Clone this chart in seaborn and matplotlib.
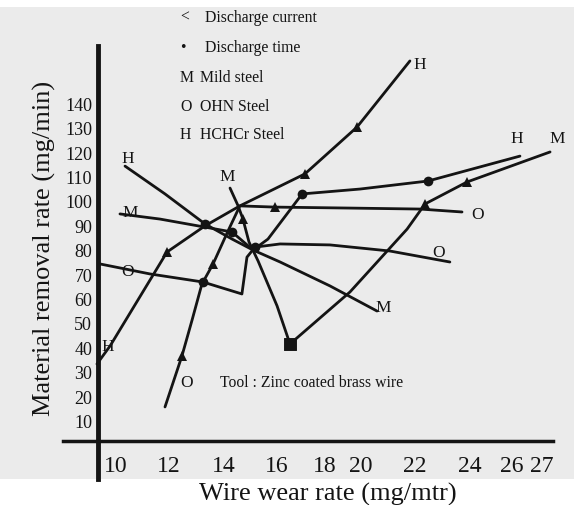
import matplotlib
matplotlib.use("Agg")
import matplotlib.pyplot as plt
from matplotlib.transforms import ScaledTranslation
import seaborn as sns

sns.set_theme(style="white")
plt.rcParams['font.family'] = ['Liberation Serif', 'DejaVu Serif']

# ---------------- data ----------------
x_ticks = [10, 12, 14, 16, 18, 20, 22, 24, 26, 27]
y_ticks = [10, 20, 30, 40, 50, 60, 70, 80, 90, 100, 110, 120, 130, 140]

# HCHCr steel - discharge current
h_cur_x = [8.97, 9.49, 11.74, 13.24, 14.62, 17.19, 19.25, 21.34]
h_cur_y = [33.2, 40.6, 79.1, 89.8, 98.0, 111.1, 130.3, 157.4]
# OHN steel - discharge current
o_cur_x = [11.66, 12.33, 12.73, 13.12, 13.56, 14.15, 14.62, 16.01, 18.97, 21.74, 23.40]
o_cur_y = [15.6, 36.5, 51.2, 66.0, 74.2, 87.7, 98.0, 97.5, 97.1, 96.7, 95.5]
# Mild steel - discharge current
m_cur_x = [14.23, 14.55, 14.74, 14.98, 15.34, 16.09, 16.60, 18.97, 21.23, 21.94, 23.60, 26.88]
m_cur_y = [105.3, 98.0, 92.6, 83.2, 75.4, 57.0, 41.4, 62.7, 88.5, 98.8, 107.8, 120.1]
# HCHCr steel - discharge time
h_time_x = [10.08, 11.66, 13.24, 14.31, 15.14, 15.73, 17.08, 19.37, 22.06, 25.69]
h_time_y = [114.3, 102.9, 90.6, 84.4, 79.9, 84.4, 102.9, 104.9, 108.2, 118.4]
# Mild steel - discharge time
m_time_x = [9.88, 11.46, 13.24, 14.31, 15.14, 16.21, 18.18, 20.04]
m_time_y = [94.7, 92.6, 89.3, 87.3, 79.9, 75.0, 65.2, 54.9]
# OHN steel - discharge time
o_time_x = [9.09, 11.07, 13.16, 14.70, 14.90, 15.22, 16.21, 18.18, 20.55, 22.92]
o_time_y = [74.2, 70.1, 66.8, 61.9, 77.0, 81.1, 82.4, 82.0, 79.5, 75.0]

INK = '#141414'

fig = plt.figure(figsize=(5.74, 5.06), dpi=100, facecolor='white')
ax = fig.add_axes([0, 26 / 506, 1, 472 / 506])
ax.set_facecolor('#ebebeb')
ax.set_xlim(10 - 123 / 25.3, 10 + 451 / 25.3)
ax.set_ylim((446 - 480) / 2.44, (446 - 8) / 2.44)

series = [
    (h_cur_x, h_cur_y, '^', [2, 5, 6]),
    (o_cur_x, o_cur_y, '^', [1, 4, 7]),
    (m_cur_x, m_cur_y, '^', [2, 9, 10]),
    (h_time_x, h_time_y, 'o', [2, 6, 8]),
    (m_time_x, m_time_y, 'o', [3]),
    (o_time_x, o_time_y, 'o', [2, 5]),
]
for xs, ys, mk, idx in series:
    sns.lineplot(x=xs, y=ys, sort=False, estimator=None, ax=ax, color=INK,
                 linewidth=2.0, marker=mk, markevery=idx, markersize=7,
                 markeredgewidth=0, markerfacecolor=INK, legend=False)

# square marker at the lowest point of the mild-steel current curve
sns.scatterplot(x=[m_cur_x[6]], y=[m_cur_y[6]], marker='s', s=70, color=INK,
                edgecolor=INK, ax=ax, legend=False)

# spines as crossing axes
for s in ['top', 'right']:
    ax.spines[s].set_visible(False)
ax.spines['left'].set_position(('data', 9.0))
ax.spines['left'].set_bounds(-13.9, 163.5)
ax.spines['left'].set_linewidth(3.5)
ax.spines['bottom'].set_position(('data', 1.64))
ax.spines['bottom'].set_bounds(7.63, 27.0)
ax.spines['bottom'].set_linewidth(2.5)
for s in ['left', 'bottom']:
    ax.spines[s].set_color(INK)

ax.set_xticks(x_ticks)
ax.set_xticklabels([str(v) for v in x_ticks])
ax.set_yticks(y_ticks)
ax.set_yticklabels([str(v) for v in y_ticks])
ax.tick_params(axis='x', direction='inout', length=6, width=2.5, color=INK,
               labelsize=17, pad=7, labelcolor=INK)
ax.tick_params(axis='y', direction='inout', length=6, width=2.0, color=INK,
               labelsize=13, pad=1, labelcolor=INK)

# the printed x tick numbers sit slightly left of their tick marks
label_shift_px = [-7, -5, 0, 2, -1, -15, -12, -7, -16, -11]
for tick, dx in zip(ax.xaxis.get_major_ticks(), label_shift_px):
    lab = tick.label1
    lab.set_transform(lab.get_transform() +
                      ScaledTranslation(dx / 100, 0, fig.dpi_scale_trans))

ax.set_xlabel('Wire wear rate (mg/mtr)', fontsize=19, color=INK)
ax.xaxis.set_label_coords(328 / 574, (480 - 494) / 472)
ax.xaxis.label.set_va('center')
ax.set_ylabel('Material removal rate (mg/min)', fontsize=19, color=INK)
ax.yaxis.set_label_coords(44 / 574, (480 - 248) / 472)
ax.yaxis.label.set_va('center')

# legend block (typed text)
leg_fs = 11.3
ax.text(12.25, 175.4, '<', fontsize=leg_fs, va='center', ha='left', color=INK)
ax.text(13.24, 175.4, 'Discharge current', fontsize=leg_fs, va='center', ha='left', color=INK)
ax.text(12.25, 163.1, '\u2022', fontsize=leg_fs, va='center', ha='left', color=INK)
ax.text(13.24, 163.1, 'Discharge time', fontsize=leg_fs, va='center', ha='left', color=INK)
ax.text(12.25, 150.8, 'M', fontsize=leg_fs, va='center', ha='left', color=INK)
ax.text(13.04, 150.8, 'Mild steel', fontsize=leg_fs, va='center', ha='left', color=INK)
ax.text(12.25, 138.9, 'O', fontsize=leg_fs, va='center', ha='left', color=INK)
ax.text(13.04, 138.9, 'OHN Steel', fontsize=leg_fs, va='center', ha='left', color=INK)
ax.text(12.25, 127.5, 'H', fontsize=leg_fs, va='center', ha='left', color=INK)
ax.text(13.04, 127.5, 'HCHCr Steel', fontsize=leg_fs, va='center', ha='left', color=INK)

ax.text(13.83, 25.8, 'Tool : Zinc coated brass wire', fontsize=11.3, va='center',
        ha='left', color=INK)

# curve end labels
end_labels = [
    ('H', 10.20, 117.6), ('M', 10.28, 95.5), ('O', 10.20, 71.3),
    ('H', 9.41, 40.6), ('O', 12.53, 25.8), ('M', 14.11, 110.2),
    ('H', 21.74, 156.1), ('H', 25.57, 125.8), ('M', 27.15, 125.8),
    ('O', 24.03, 94.7), ('O', 22.49, 79.1), ('M', 20.28, 56.6),
]
for t, lx, ly in end_labels:
    ax.text(lx, ly, t, fontsize=12.5, ha='center', va='center', color=INK)

fig.savefig('out.png', dpi=100)
